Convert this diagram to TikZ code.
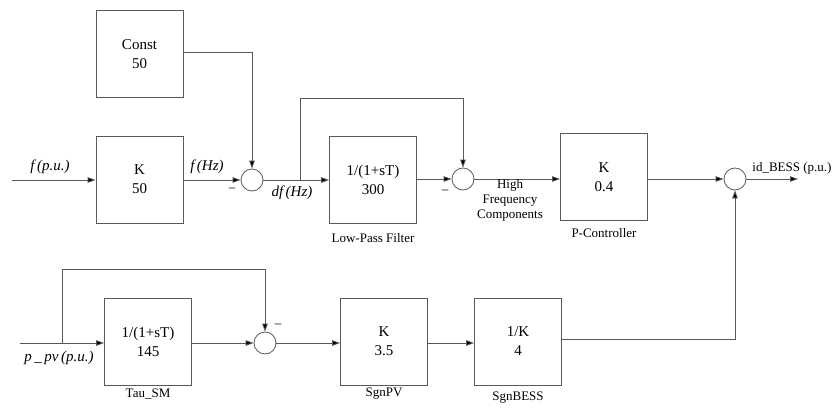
\documentclass[tikz,border=0pt]{standalone}
\usepackage{fontspec}
\setmainfont{Liberation Serif}
\usetikzlibrary{arrows.meta}
\begin{document}
\begin{tikzpicture}[x=1pt,y=-1pt,
  blk/.style={draw=black!65,line width=0.8pt,minimum width=87pt,minimum height=87pt,inner sep=0pt,align=center,font=\fontsize{15}{19}\selectfont},
  sumc/.style={draw=black!65,line width=0.8pt,circle,minimum size=22pt,inner sep=0pt},
  conn/.style={draw=black!65,line width=0.8pt},
  arr/.style={conn,-{Triangle[length=8pt,width=5.5pt,fill=black]}},
  lbl/.style={font=\fontsize{13}{15}\selectfont,inner sep=0pt,align=center},
  mlbl/.style={font=\fontsize{15}{17}\selectfont\itshape,inner sep=0pt},
  sgn/.style={font=\fontsize{13}{13}\selectfont,inner sep=0pt}]
\useasboundingbox (0,0) rectangle (835,410);
% top row
\node[blk] (const) at (139.5,54) {Const\\50};
\node[blk] (k50) at (139.5,179.5) {K\\50};
\node[sumc] (sum1) at (252,180) {};
\node[blk] (lpf) at (373,179.5) {1/(1+sT)\\300};
\node[sumc] (sum2) at (463,179) {};
\node[blk] (pc) at (604,177) {K\\0.4};
\node[sumc] (sum3) at (735,179) {};
% bottom row
\node[blk] (tau) at (148,341.5) {1/(1+sT)\\145};
\node[sumc] (sum4) at (265,343) {};
\node[blk] (sgnpv) at (384,341.5) {K\\3.5};
\node[blk] (sgnbess) at (518,341.5) {1/K\\4};
% coordinates
\coordinate (in1) at (12,180);
\coordinate (b1) at (300,180);
\coordinate (out) at (798,179);
\coordinate (in2) at (20,343);
\coordinate (b2) at (62,343);
% connectors top
\draw[arr] (in1) -- (k50.west |- in1);
\draw[arr] (k50.east |- sum1) -- (sum1.west);
\draw[arr] (const.east |- 0,52) -| (sum1.north);
\draw[arr] (sum1.east) -- (lpf.west |- sum1);
\draw[arr] (b1) -- (300,98) -| (sum2.north);
\draw[arr] (lpf.east |- sum2) -- (sum2.west);
\draw[arr] (sum2.east) -- (pc.west |- sum2);
\draw[arr] (pc.east |- sum3) -- (sum3.west);
\draw[arr] (sum3.east) -- (out);
\draw[arr] (sgnbess.east |- 0,339) -| (sum3.south);
% connectors bottom
\draw[arr] (in2) -- (tau.west |- in2);
\draw[arr] (b2) -- (62,269) -| (sum4.north);
\draw[arr] (tau.east |- sum4) -- (sum4.west);
\draw[arr] (sum4.east) -- (sgnpv.west |- sum4);
\draw[arr] (sgnpv.east |- sum4) -- (sgnbess.west |- sum4);
% labels
\node[mlbl] (lf) at (50,167) {f\,(p.u.)};
\node[mlbl] (lfhz) at (207,167) {f\,(Hz)};
\node[mlbl] (ldf) at (292,193) {df\,(Hz)};
\node[mlbl] (lppv) at (59,358) {p\,\_\,pv\,(p.u.)};
\node[sgn] (m1) at (232,190) {\textendash};
\node[sgn] (m2) at (445,192) {\textendash};
\node[sgn] (m4) at (278,326) {\textendash};
\node[lbl] (hfc) at (510,200) {High\\Frequency\\Components};
\node[lbl] (lout) at (792,168) {id\_BESS (p.u.)};
\node[lbl] (llpf) at (373,238) {Low-Pass Filter};
\node[lbl] (lpc) at (604,233) {P-Controller};
\node[lbl] (ltau) at (148,394) {Tau\_SM};
\node[lbl] (lsgnpv) at (384,394) {SgnPV};
\node[lbl] (lsgnbess) at (518,398) {SgnBESS};
\end{tikzpicture}
\end{document}
